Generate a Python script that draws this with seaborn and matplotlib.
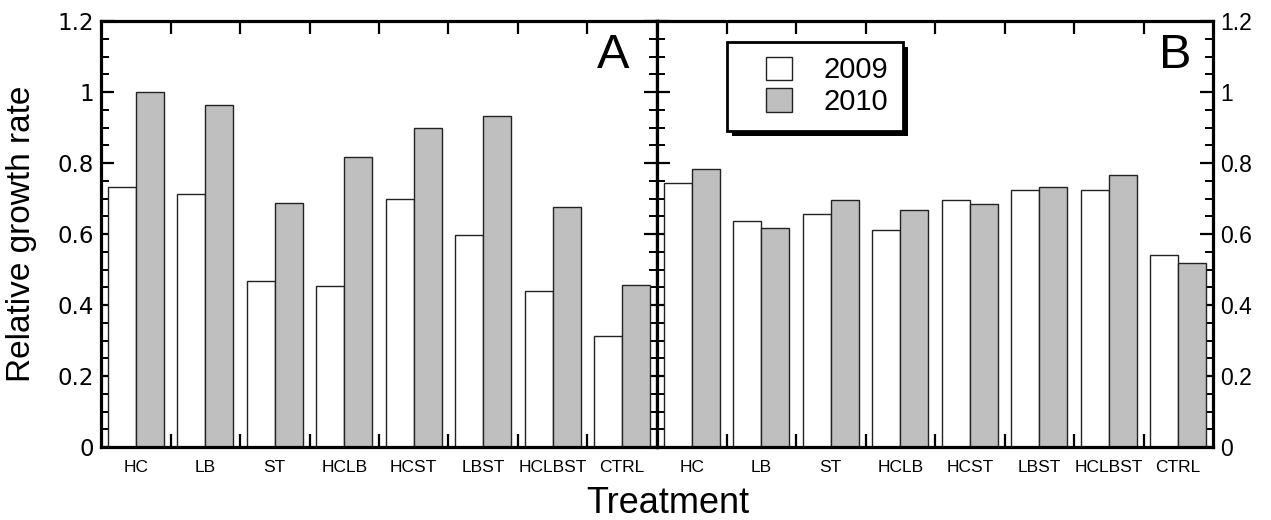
import numpy as np
import pandas as pd
import matplotlib
matplotlib.use("Agg")
import matplotlib.pyplot as plt
import seaborn as sns
from matplotlib.patches import Patch, Rectangle
from matplotlib.legend_handler import HandlerPatch
from matplotlib.ticker import MultipleLocator, FuncFormatter

# ---------------- data ----------------
treatments = ["HC", "LB", "ST", "HCLB", "HCST", "LBST", "HCLBST", "CTRL"]
years = ["2009", "2010"]
panel_a_2009 = [0.732, 0.714, 0.468, 0.454, 0.699, 0.598, 0.440, 0.313]
panel_a_2010 = [1.000, 0.964, 0.687, 0.818, 0.900, 0.932, 0.676, 0.455]
panel_b_2009 = [0.745, 0.638, 0.655, 0.610, 0.697, 0.725, 0.725, 0.542]
panel_b_2010 = [0.784, 0.618, 0.697, 0.667, 0.684, 0.733, 0.765, 0.517]
y_ticks = [0, 0.2, 0.4, 0.6, 0.8, 1.0, 1.2]
panel_letters = ["A", "B"]

def long_df(v2009, v2010):
    return pd.DataFrame({
        "Treatment": treatments * 2,
        "Year": [years[0]] * len(treatments) + [years[1]] * len(treatments),
        "Rate": list(v2009) + list(v2010),
    })

df_a = long_df(panel_a_2009, panel_a_2010)
df_b = long_df(panel_b_2009, panel_b_2010)

# ---------------- style ----------------
sns.set_style("white")
plt.rcParams["font.family"] = ["Liberation Sans", "DejaVu Sans"]
plt.rcParams["text.color"] = "black"
plt.rcParams["axes.labelcolor"] = "black"
plt.rcParams["xtick.color"] = "black"
plt.rcParams["ytick.color"] = "black"
W, H = 1271, 520
fig = plt.figure(figsize=(W / 100, H / 100), dpi=100)

colors = {"2009": "white", "2010": "#bfbfbf"}
ax_pos_y = (H - 447) / H
ax_h = 426 / H
ax_w = 556 / W
ax_a = fig.add_axes([101 / W, ax_pos_y, ax_w, ax_h])
ax_b = fig.add_axes([657 / W, ax_pos_y, ax_w, ax_h])

for ax, df in ((ax_a, df_a), (ax_b, df_b)):
    sns.barplot(data=df, x="Treatment", y="Rate", hue="Year", order=treatments,
                hue_order=years, palette=colors, saturation=1, width=0.8,
                edgecolor="#222222", linewidth=1.0, ax=ax, legend=False)
    ax.set_xlim(-0.5, len(treatments) - 0.5)
    ax.set_ylim(0, 1.2)
    ax.set_xlabel("")
    ax.set_ylabel("")
    for s in ax.spines.values():
        s.set_linewidth(2.3)
        s.set_color("black")
        s.set_visible(True)
    # x: labels at centres, tick marks at group boundaries
    ax.set_xticks(range(len(treatments)))
    ax.set_xticklabels(treatments, fontsize=12.5, color="black",
                       family=["Liberation Sans", "DejaVu Sans"])
    ax.set_xticks(np.arange(0.5, len(treatments) - 0.5, 1.0), minor=True)
    ax.tick_params(axis="x", which="major", length=0, pad=9, colors="black")
    ax.tick_params(axis="x", which="minor", direction="in", length=9.5, width=1.6,
                   top=True, bottom=True, colors="black")
    # y ticks on both sides
    ax.set_yticks(y_ticks)
    ax.yaxis.set_minor_locator(MultipleLocator(0.05))
    ax.yaxis.set_major_formatter(FuncFormatter(lambda v, p: f"{v:g}"))
    ax.tick_params(axis="y", which="major", direction="in", length=9.5, width=1.6,
                   left=True, right=True, labelsize=16.5, pad=5, colors="black")
    ax.tick_params(axis="y", which="minor", direction="in", length=5.5, width=1.4,
                   left=True, right=True, colors="black")
    for lab in ax.get_yticklabels():
        lab.set_family("DejaVu Sans")
    ax.grid(False)

ax_a.tick_params(axis="y", labelleft=True, labelright=False)
ax_b.tick_params(axis="y", labelleft=False, labelright=True)

ax_a.set_ylabel("Relative growth rate", fontsize=24, color="black")
ax_a.yaxis.set_label_coords(-0.115, 0.5)
fig.text(668 / W, (H - 513) / H, "Treatment", fontsize=26, ha="center",
         va="baseline", color="black")

ax_a.text(0.921, 0.919, panel_letters[0], transform=ax_a.transAxes, fontsize=35,
          ha="center", va="center", color="black")
ax_b.text(0.933, 0.919, panel_letters[1], transform=ax_b.transAxes, fontsize=35,
          ha="center", va="center", color="black")

# ---------------- legend ----------------
PATCH_W = 26 * 72 / 100  # points

def offset_patch(legend, orig_handle, xdescent, ydescent, width, height, fontsize):
    return Rectangle((-xdescent + width - PATCH_W, -ydescent), PATCH_W, height)

handles = [Patch(facecolor=colors[y], edgecolor="#222222", linewidth=1.0) for y in years]
leg = ax_b.legend(handles, years, loc="upper left", bbox_to_anchor=(0.126, 0.951),
                  borderaxespad=0, fontsize=21, frameon=True, fancybox=False,
                  edgecolor="black", framealpha=1, borderpad=0.5,
                  handlelength=1.714, handleheight=0.857, handletextpad=1.1,
                  labelspacing=0.12,
                  handler_map={Patch: HandlerPatch(patch_func=offset_patch)})
leg.get_frame().set_linewidth(2.0)
for t in leg.get_texts():
    t.set_color("black")
leg.set_zorder(5)

fig.canvas.draw()
bb = leg.get_window_extent()
shadow = Rectangle(((bb.x0 + 5) / W, (bb.y0 - 5) / H), bb.width / W, bb.height / H,
                   transform=fig.transFigure, facecolor="black", edgecolor="none",
                   clip_on=False, zorder=4.9)
ax_b.add_patch(shadow)
ax_b.set_xlim(-0.5, len(treatments) - 0.5)
ax_b.set_ylim(0, 1.2)

fig.savefig("out.png", dpi=100)
